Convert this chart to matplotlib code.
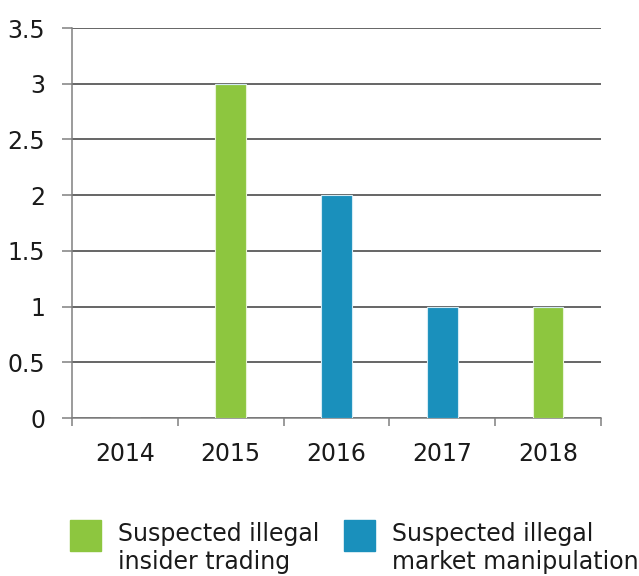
import matplotlib.pyplot as plt
import matplotlib.patches as patches
import numpy as np

years = ['2014', '2015', '2016', '2017', '2018']
insider = [0, 3, 0, 0, 1]
manipulation = [0, 0, 2, 1, 0]
yticks = [0, 0.5, 1, 1.5, 2, 2.5, 3, 3.5]
ytick_labels = ['0', '0.5', '1', '1.5', '2', '2.5', '3', '3.5']
legend_labels = [['Suspected illegal', 'insider trading'],
                 ['Suspected illegal', 'market manipulation']]

green = '#8DC63F'
blue = '#1A90BC'
txt = '#1a1a1a'

plt.rcParams['font.family'] = ['DejaVu Sans']

W, H = 639, 576
fig = plt.figure(figsize=(W/100, H/100), dpi=100)
ax = fig.add_axes([72/W, 1-418/H, (601-72)/W, (418-28)/H])

x = np.arange(len(years))
ax.bar(x, insider, width=0.29, color=green, edgecolor='#e8f3d6', linewidth=0.8, zorder=3)
ax.bar(x, manipulation, width=0.29, bottom=insider, color=blue, edgecolor='#d3ebf4', linewidth=0.8, zorder=3)

ax.set_xlim(-0.5, len(years)-0.5)
ax.set_ylim(0, 3.5)
ax.set_yticks(yticks)
ax.set_yticklabels(ytick_labels, fontsize=17, color=txt)
ax.yaxis.grid(True, color='#3c3c3c', linewidth=1.1, zorder=0)
ax.set_axisbelow(True)

# year labels sit between boundary ticks
ax.set_xticks(x)
ax.set_xticklabels(years, fontsize=17, color=txt)
ax.tick_params(axis='x', length=0, pad=17)
ax.set_xticks(np.arange(-0.5, len(years)), minor=True)
ax.tick_params(axis='x', which='minor', length=5.5, color='#808080', width=1.1)
ax.tick_params(axis='y', length=7.2, color='#808080', width=1.1, pad=12)

for s in ['top', 'right']:
    ax.spines[s].set_visible(False)
for s in ['left', 'bottom']:
    ax.spines[s].set_color('#808080')
    ax.spines[s].set_linewidth(1.1)

# legend drawn by hand along the bottom edge
for px, col, lines in [(70, green, legend_labels[0]), (344, blue, legend_labels[1])]:
    fig.patches.append(patches.Rectangle((px/W, 1-551/H), 31/W, 31/H,
                                         transform=fig.transFigure, color=col))
    for i, line in enumerate(lines):
        fig.text((px+48)/W, 1-(541+28*i)/H, line, fontsize=17, color=txt,
                 va='baseline', ha='left')

plt.savefig('out.png', dpi=100)
